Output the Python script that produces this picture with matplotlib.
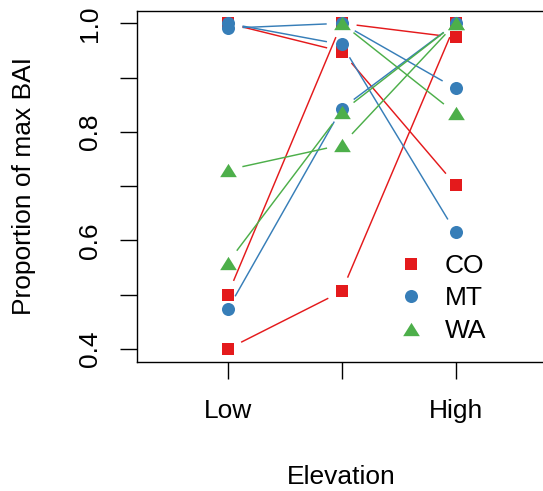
"""
Proportion of max BAI by elevation (Low / Mid / High) for CO, MT and WA sites.
R-style type="b" lines: segments stop short of each point.
"""
import numpy as np
import matplotlib
matplotlib.use("Agg")
import matplotlib.pyplot as plt
from matplotlib.lines import Line2D

plt.rcParams["font.family"] = ["Liberation Sans", "DejaVu Sans"]

ELEVATION = [1, 2, 3]
ELEV_LABELS = ["Low", "", "High"]
Y_TICKS = [0.4, 0.5, 0.6, 0.7, 0.8, 0.9, 1.0]
Y_LABELS = ["0.4", "", "0.6", "", "0.8", "", "1.0"]

# one row per site: Low, Mid, High
CO = [[1.000, 0.948, 0.702],
      [0.500, 1.000, 0.974],
      [0.400, 0.506, 1.000]]
MT = [[0.991, 1.000, 0.880],
      [1.000, 0.961, 0.615],
      [0.473, 0.843, 1.000]]
WA = [[np.nan, 1.000, 0.834],
      [0.730, 0.776, 1.000],
      [0.559, 0.837, 1.000]]

RED = "#E41A1C"
BLUE = "#377EB8"
GREEN = "#4DAF4A"
TRI = [(-1, -0.8), (1, -0.8), (0, 0.8)]

STATES = [
    ("CO", CO, RED, "s", 8.6),
    ("MT", MT, BLUE, "o", 9.4),
    ("WA", WA, GREEN, TRI, 12),
]

FS = 19
W, H = 543, 491


def gapped_lines(ax, xs, ys, color, gap=15):
    pts = ax.transData.transform(np.column_stack([xs, ys]))
    inv = ax.transData.inverted()
    for i in range(len(xs) - 1):
        if np.isnan(ys[i]) or np.isnan(ys[i + 1]):
            continue
        p0, p1 = pts[i], pts[i + 1]
        d = p1 - p0
        length = np.hypot(*d)
        if length <= 2 * gap:
            continue
        u = d / length
        seg = inv.transform([p0 + u * gap, p1 - u * gap])
        ax.plot(seg[:, 0], seg[:, 1], color=color, lw=1.05,
                solid_capstyle="butt", zorder=2)


fig = plt.figure(figsize=(W / 100, H / 100), dpi=100)
ax = fig.add_axes([137 / W, 129.3 / H, (546.4 - 137) / W, (361.7 - 10.7) / H])
ax.set_xlim(0.204, 3.796)
ax.set_ylim(0.3766, 1.0232)

handles = []
for name, sites, color, marker, ms in STATES:
    for ys in sites:
        ys = np.array(ys, dtype=float)
        gapped_lines(ax, ELEVATION, ys, color)
        ax.plot(ELEVATION, ys, linestyle="none", marker=marker, ms=ms,
                color=color, markeredgewidth=0, zorder=3)
    handles.append(Line2D([], [], linestyle="none", marker=marker, ms=ms,
                          color=color, markeredgewidth=0, label=name))

ax.set_xticks(ELEVATION)
ax.set_xticklabels(ELEV_LABELS, fontsize=FS)
ax.set_yticks(Y_TICKS)
ax.set_yticklabels(Y_LABELS, fontsize=FS)
plt.setp(ax.get_yticklabels(), rotation=90, va="center")
ax.tick_params(axis="x", length=12, width=1, pad=15)
ax.tick_params(axis="y", length=12, width=1, pad=13)
for spine in ax.spines.values():
    spine.set_linewidth(1.0)

ax.set_xlabel("Elevation", fontsize=FS)
ax.xaxis.set_label_coords(341 / W, 1 - 477 / H, transform=fig.transFigure)
ax.xaxis.label.set_va("center")
ax.set_ylabel("Proportion of max BAI", fontsize=FS)
ax.yaxis.set_label_coords(24 / W, 1 - 186.2 / H, transform=fig.transFigure)
ax.yaxis.label.set_va("center")

ax.legend(handles=handles, loc="upper left", frameon=False, fontsize=FS,
          bbox_to_anchor=(397.5 / W, 1 - 254 / H),
          bbox_transform=fig.transFigure, borderpad=0, borderaxespad=0,
          handlelength=1.0, handletextpad=0.8, labelspacing=0.32)

fig.savefig("out.png", dpi=100)
